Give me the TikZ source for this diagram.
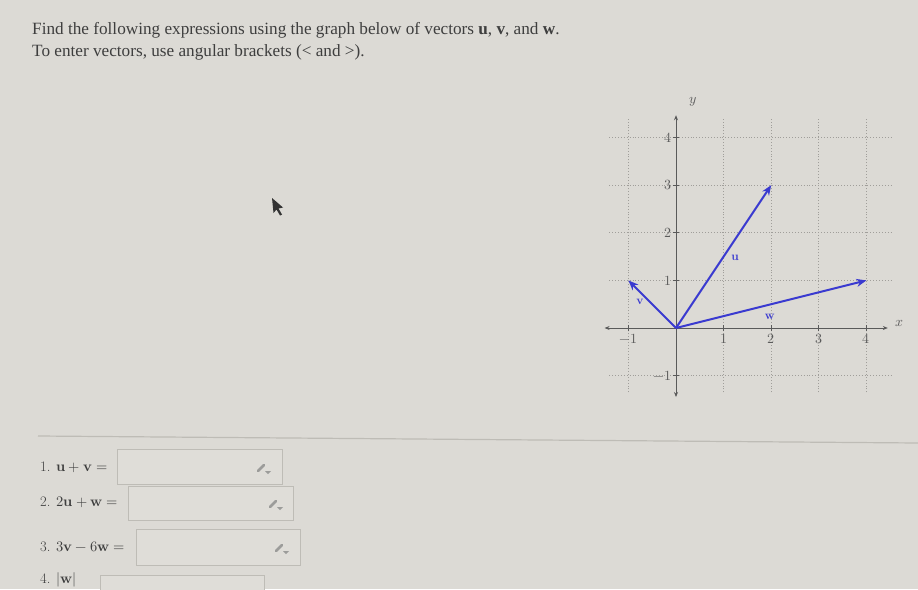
\documentclass[tikz,border=0pt]{standalone}
\usepackage{fontspec}
\setmainfont{Liberation Serif}
\newfontfamily\lmfont{Latin Modern Roman}
\usepackage{unicode-math}
\usetikzlibrary{arrows.meta}
\definecolor{bgc}{HTML}{DCDAD5}
\definecolor{txt}{HTML}{3E3E3E}
\definecolor{axc}{HTML}{5A5A5A}
\definecolor{gridc}{HTML}{A09E9A}
\definecolor{vecc}{HTML}{3A3AD0}
\definecolor{boxc}{HTML}{BEBCB6}
\definecolor{boxf}{HTML}{DFDDD8}
\definecolor{penc}{HTML}{9C9C9A}
\tikzset{
  headtext/.style={anchor=west, text=txt, font=\fontsize{17.2}{19}\selectfont, inner sep=0pt},
  rowlabel/.style={anchor=west, text=txt, font=\lmfont\fontsize{14.5}{16}\selectfont, inner sep=0pt},
  ansbox/.style={draw=boxc, fill=boxf, line width=0.9pt},
  gridline/.style={gridc, dotted, line width=0.9pt},
  axis/.style={axc, line width=0.8pt, {Stealth[length=5pt,width=4pt]}-{Stealth[length=5pt,width=4pt]}},
  ticklab/.style={text=axc, font=\lmfont\fontsize{14}{16}\selectfont, inner sep=1pt},
  vec/.style={vecc, line width=2pt, -{Stealth[length=10pt,width=8pt]}},
  veclab/.style={text=vecc, font=\lmfont\bfseries\fontsize{12}{14}\selectfont, inner sep=0pt},
  pencil/.style={penc, line width=2.6pt, line cap=round},
}
\newcommand{\pencilicon}[1]{%
  \draw[pencil] ([xshift=-5pt,yshift=-3pt]#1) -- ([xshift=1pt,yshift=3pt]#1);
  \fill[penc] ([xshift=2pt,yshift=-3pt]#1) -- ([xshift=8pt,yshift=-3pt]#1) -- ([xshift=5pt,yshift=-6pt]#1) -- cycle;
}
\begin{document}
\begin{tikzpicture}[x=1pt,y=-1pt]
\useasboundingbox (0,0) rectangle (918,589);
\clip (0,0) rectangle (918,589);
\fill[bgc] (0,0) rectangle (918,589);

% heading
\node[headtext] (h1) at (32,30) {Find the following expressions using the graph below of vectors \textbf{u}, \textbf{v}, and \textbf{w}.};
\node[headtext] (h2) at (32,52) {To enter vectors, use angular brackets (< and >).};

% cursor
\fill[black!80] (272,198) -- (273.5,213) -- (276.5,209.5) -- (280,215.5) -- (282,214.5) -- (278.5,208.5) -- (283,207.5) -- cycle;

% divider
\coordinate (dl) at (38,436);
\coordinate (dr) at (918,443);
\draw[boxc, line width=1.2pt] (dl) -- (dr);

% answer rows
\node[rowlabel] (l1) at (40,467) {1. $\symbf{u}+\symbf{v}=$};
\draw[ansbox] (117,449) rectangle (282,484);
\coordinate (p1) at (263,468);
\pencilicon{p1}

\node[rowlabel] (l2) at (40,502) {2. $2\symbf{u}+\symbf{w}=$};
\draw[ansbox] (128,486) rectangle (293,520);
\coordinate (p2) at (275,504);
\pencilicon{p2}

\node[rowlabel] (l3) at (40,547) {3. $3\symbf{v}-6\symbf{w}=$};
\draw[ansbox] (136,529) rectangle (300,565);
\coordinate (p3) at (281,548);
\pencilicon{p3}

\draw[ansbox] (100,575) rectangle (264,600);
\node[rowlabel] (l4) at (40,580) {4. $|\symbf{w}|$};

% graph
\begin{scope}[shift={(676,328)}, x=47.6pt, y=47.6pt]
  \foreach \i in {-1,1,2,3,4} {\draw[gridline] (\i,-1.35) -- (\i,4.42);}
  \foreach \j in {-1,1,2,3,4} {\draw[gridline] (-1.4,\j) -- (4.55,\j);}
  \draw[axis] (-1.5,0) -- (4.45,0);
  \draw[axis] (0,-1.45) -- (0,4.47);
  \foreach \i in {-1,1,2,3,4} {
    \draw[axc, line width=0.8pt] (\i,-0.07) -- (\i,0.07);
    \node[ticklab, below] (xl\i) at (\i,-0.1) {$\i$};
  }
  \foreach \j in {-1,1,2,3,4} {
    \draw[axc, line width=0.8pt] (-0.07,\j) -- (0.07,\j);
    \node[ticklab, left] (yl\j) at (-0.08,\j) {$\j$};
  }
  \node[ticklab] (xname) at (4.7,0.1) {$x$};
  \node[ticklab] (yname) at (0.36,4.75) {$y$};
  \coordinate (O) at (0,0);
  \coordinate (U) at (2,3);
  \coordinate (V) at (-1,1);
  \coordinate (W) at (4,1);
  \draw[vec] (O) -- (U);
  \draw[vec] (O) -- (V);
  \draw[vec] (O) -- (W);
  \node[veclab] (ul) at (1.24,1.47) {u};
  \node[veclab] (vl) at (-0.76,0.55) {v};
  \node[veclab] (wl) at (1.97,0.23) {w};
\end{scope}
\end{tikzpicture}
\end{document}
